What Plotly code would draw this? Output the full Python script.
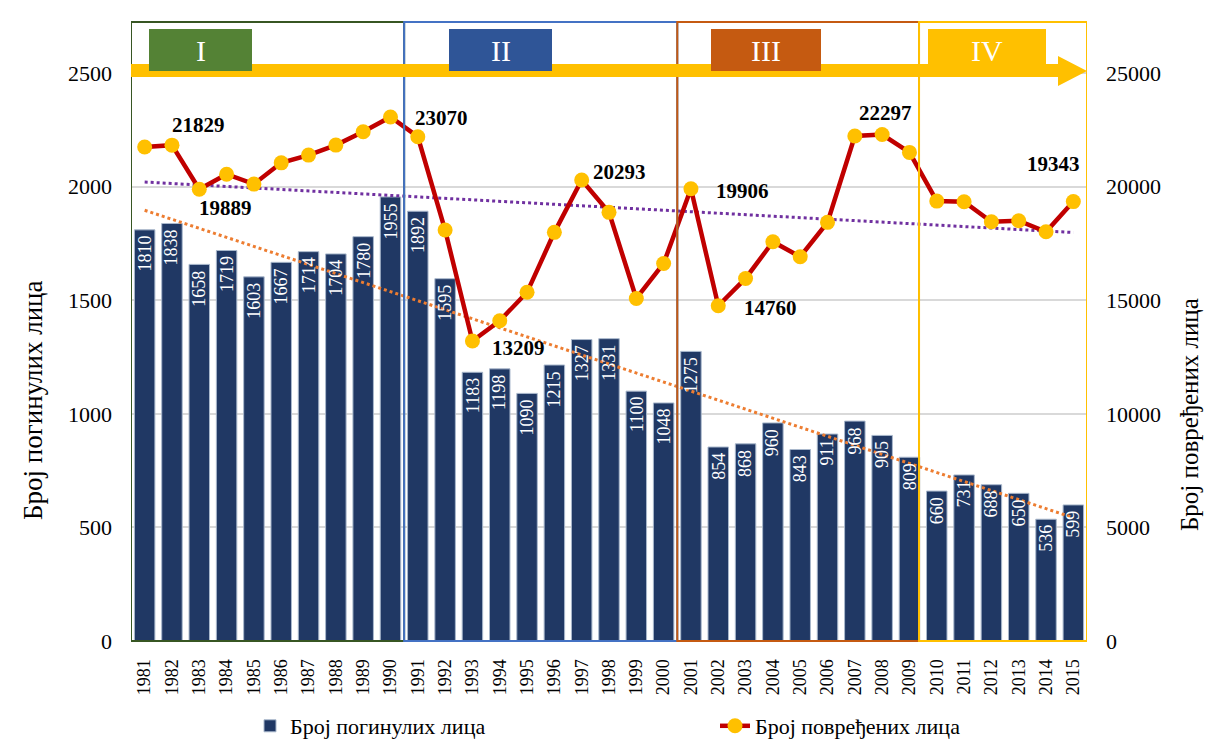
import plotly.graph_objects as go
import numpy as np

# Број погинулих и повређених лица по годинама
godine = list(range(1981, 2016))
poginuli = [1810, 1838, 1658, 1719, 1603, 1667, 1714, 1704, 1780, 1955,
            1892, 1595, 1183, 1198, 1090, 1215, 1327, 1331, 1100, 1048,
            1275, 854, 868, 960, 843, 911, 968, 905, 809,
            660, 731, 688, 650, 536, 599]
povredjeni = [21750, 21829, 19889, 20550, 20115, 21050, 21390, 21830, 22420, 23070,
              22200, 18090, 13209, 14100, 15350, 17990, 20293, 18870, 15080, 16620,
              19906, 14760, 15960, 17575, 16915, 18430, 22230, 22297, 21510,
              19366, 19335, 18455, 18500, 18015, 19343]

periodi = ['I', 'II', 'III', 'IV']
granice = [1980.5, 1990.5, 2000.5, 2009.35, 2015.5]
boje_perioda = ['#375623', '#4472C4', '#C55A11', '#FFC000']
boje_oznaka = ['#548235', '#2F5597', '#C55A11', '#FFC000']

FONT = 'Liberation Serif'
# stranica ima marginu od 8px, pa je slika pomerena
W, H = 1197, 740
L, R, T, B = 123, 118, 14, 107
pw, ph = W - L - R, H - T - B


def px(x):
    # x u pikselima ekrana -> paper
    return (x - 8 - L) / pw


def py(y):
    return (H - B - (y - 8)) / ph


# linearni trendovi
k1 = np.polyfit(godine, poginuli, 1)
k2 = np.polyfit(godine, povredjeni, 1)
trend1 = np.polyval(k1, godine)
trend2 = np.polyval(k2, godine)

fig = go.Figure()

fig.add_trace(go.Bar(
    x=godine, y=poginuli, name='Број погинулих лица',
    marker=dict(color='#203864', line=dict(color='#A9B8CC', width=1)),
))
fig.add_trace(go.Scatter(
    x=godine, y=trend1, mode='lines', showlegend=False, hoverinfo='skip',
    line=dict(color='#ED7D31', width=3, dash='dot'),
))
fig.add_trace(go.Scatter(
    x=godine, y=trend2, mode='lines', showlegend=False, hoverinfo='skip', yaxis='y2',
    line=dict(color='#7030A0', width=3, dash='dot'),
))
fig.add_trace(go.Scatter(
    x=godine, y=povredjeni, name='Број повређених лица', yaxis='y2',
    mode='lines+markers',
    line=dict(color='#C00000', width=4.5),
    marker=dict(color='#FFC000', size=15),
))

# vrednosti u stubovima
for g, v in zip(godine, poginuli):
    fig.add_annotation(x=g, y=v, text=str(v), textangle=-90, showarrow=False,
                       xanchor='center', yanchor='top', yshift=-4,
                       font=dict(family=FONT, size=18, color='white'))

# oznake vrednosti na liniji: godina, xanchor, xshift, yshift
oznake = [(1982, 'left', -2, 20), (1983, 'left', -2, -19), (1990, 'left', 23, -1),
          (1993, 'left', 18, -7), (1997, 'left', 9, 8), (2001, 'left', 23, -2),
          (2002, 'left', 24, -2), (2008, 'center', 3, 22), (2015, 'right', 9, 38)]
for god, xa, xs, ys in oznake:
    v = povredjeni[godine.index(god)]
    fig.add_annotation(x=god, y=v, yref='y2', text=f'<b>{v}</b>', showarrow=False,
                       xanchor=xa, yanchor='middle', xshift=xs, yshift=ys,
                       font=dict(family=FONT, size=21, color='black'))

# okviri perioda
for i in range(4):
    fig.add_shape(type='rect', xref='x', yref='paper', x0=granice[i], x1=granice[i + 1],
                  y0=0, y1=1, line=dict(color=boje_perioda[i], width=2), layer='above')

# strelica
fig.add_shape(type='path', xref='paper', yref='paper', layer='above',
              path=f'M 0,{py(77)} L {px(1058)},{py(77)} L {px(1058)},{py(86)} '
                   f'L 1,{py(71)} L {px(1058)},{py(56)} L {px(1058)},{py(64)} L 0,{py(64)} Z',
              fillcolor='#FFC000', line=dict(width=0))

# oznake perioda
kutije = [(149, 252), (449, 552), (711, 821), (928, 1046)]
for i, (a, b) in enumerate(kutije):
    fig.add_shape(type='rect', xref='paper', yref='paper', layer='above',
                  x0=px(a), x1=px(b), y0=py(71), y1=py(29),
                  fillcolor=boje_oznaka[i], line=dict(width=0))
    fig.add_annotation(xref='paper', yref='paper', x=px((a + b) / 2), y=py(51),
                       text=periodi[i], showarrow=False,
                       xanchor='center', yanchor='middle',
                       font=dict(family=FONT, size=30, color='white'))

# nazivi osa
fig.add_annotation(xref='paper', yref='paper', x=px(33), y=py(400), textangle=-90,
                   text='Број погинулих лица', showarrow=False,
                   xanchor='center', yanchor='middle',
                   font=dict(family=FONT, size=27, color='black'))
fig.add_annotation(xref='paper', yref='paper', x=px(1189), y=py(415), textangle=-90,
                   text='Број повређених лица', showarrow=False,
                   xanchor='center', yanchor='middle',
                   font=dict(family=FONT, size=25, color='black'))

fig.update_layout(
    width=W, height=H,
    margin=dict(l=L, r=R, t=T, b=B),
    paper_bgcolor='white', plot_bgcolor='white',
    font=dict(family=FONT, size=20, color='black'),
    bargap=0.25,
    showlegend=True,
    legend=dict(orientation='h', x=px(250), y=(H - 718) / H, yref='container',
                xanchor='left', yanchor='middle',
                entrywidth=420, font=dict(family=FONT, size=22)),
    xaxis=dict(range=[1980.5, 2015.5], tickmode='array', tickvals=godine,
               ticktext=[str(g) for g in godine], tickangle=-90, automargin=False,
               tickfont=dict(family=FONT, size=18), showgrid=False,
               showline=True, linecolor='#BFBFBF', ticks='', ticklabelstandoff=10),
    yaxis=dict(range=[0, 2725], tickvals=[0, 500, 1000, 1500, 2000, 2500],
               showgrid=True, gridcolor='#D9D9D9', gridwidth=2, zeroline=False,
               automargin=False, tickfont=dict(family=FONT, size=22),
               ticklabelstandoff=18),
    yaxis2=dict(range=[0, 27250], tickvals=[0, 5000, 10000, 15000, 20000, 25000],
                tickformat='d', overlaying='y', side='right', showgrid=False,
                zeroline=False, automargin=False,
                tickfont=dict(family=FONT, size=22), ticklabelstandoff=18),
)

fig.write_html("out.html")
